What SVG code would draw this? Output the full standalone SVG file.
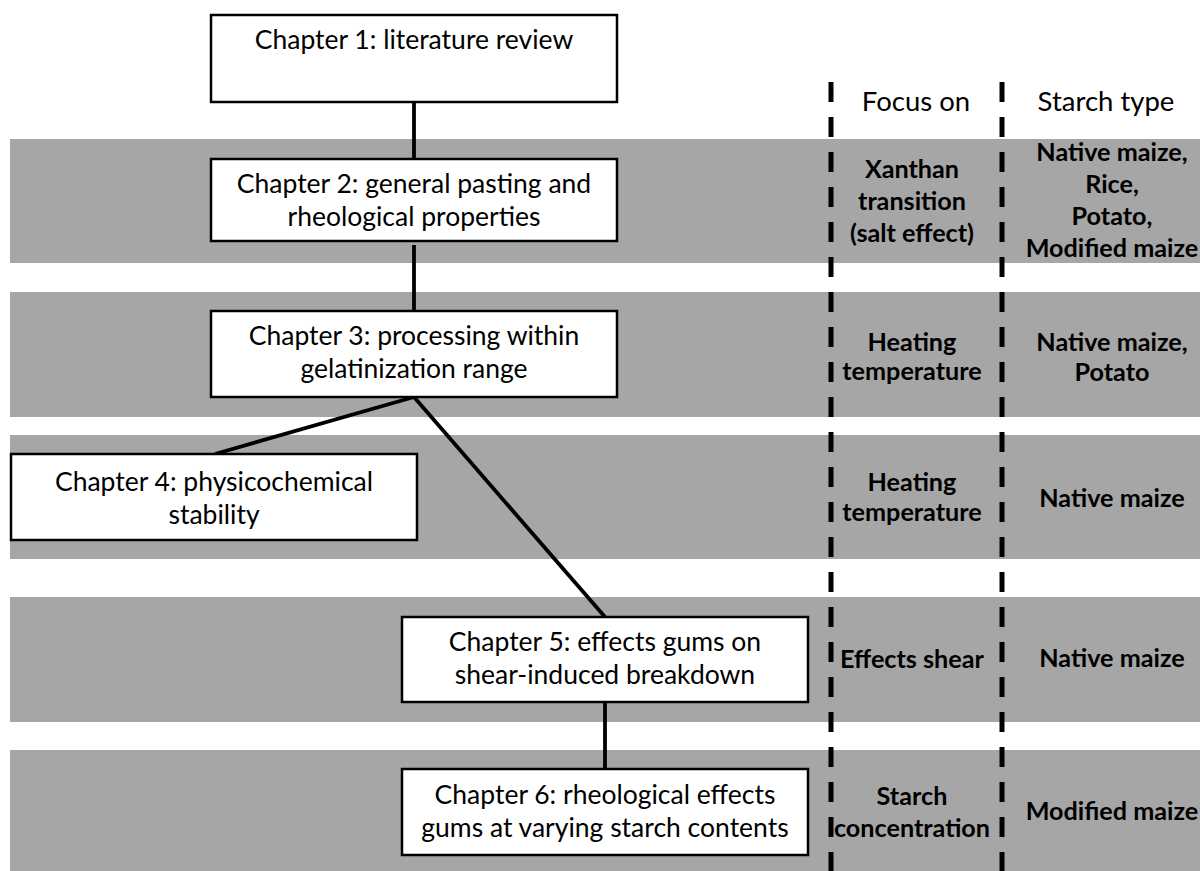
<svg xmlns="http://www.w3.org/2000/svg" width="1200" height="871" viewBox="0 0 1200 871">
<style>
.band{fill:#a6a6a6}
.box{fill:#fff;stroke:#000;stroke-width:2.5}
.t{font-family:Lato,"Liberation Sans",sans-serif;font-size:26.5px;fill:#000;text-anchor:middle}
.h{font-family:Lato,"Liberation Sans",sans-serif;font-size:27.5px;fill:#000;text-anchor:middle}
.b{font-family:Lato,"Liberation Sans",sans-serif;font-size:25.2px;font-weight:bold;fill:#000;text-anchor:middle}
.conn line{stroke:#000;stroke-width:3.8}
.dash{stroke:#000;stroke-width:5;stroke-dasharray:20 15}
</style>
<g id="bands">
<rect class="band" x="10" y="139" width="1190" height="124"/>
<rect class="band" x="10" y="292" width="1190" height="125"/>
<rect class="band" x="10" y="435" width="1190" height="124"/>
<rect class="band" x="10" y="597" width="1190" height="125"/>
<rect class="band" x="10" y="750" width="1190" height="121"/>
</g>
<g id="dividers">
<line class="dash" x1="831" y1="82" x2="831" y2="871"/>
<line class="dash" x1="1002" y1="82" x2="1002" y2="871"/>
</g>
<g class="conn" id="connectors">
<line x1="414" y1="101" x2="414" y2="159"/>
<line x1="414" y1="245" x2="414" y2="311"/>
<line x1="414" y1="397" x2="215" y2="454"/>
<line x1="414" y1="397" x2="605" y2="617"/>
<line x1="605" y1="702" x2="605" y2="769"/>
</g>
<g id="ch1">
<rect class="box" x="211" y="15" width="406" height="87"/>
<text class="t" x="414" y="49">Chapter 1: literature review</text>
</g>
<g id="ch2">
<rect class="box" x="211" y="159" width="406" height="82"/>
<text class="t" x="414" y="193">Chapter 2: general pasting and</text>
<text class="t" x="414" y="226">rheological properties</text>
</g>
<g id="ch3">
<rect class="box" x="211" y="311" width="406" height="86"/>
<text class="t" x="414" y="345">Chapter 3: processing within</text>
<text class="t" x="414" y="378">gelatinization range</text>
</g>
<g id="ch4">
<rect class="box" x="11" y="454" width="406" height="86"/>
<text class="t" x="214" y="491">Chapter 4: physicochemical</text>
<text class="t" x="214" y="524">stability</text>
</g>
<g id="ch5">
<rect class="box" x="402" y="617" width="406" height="85"/>
<text class="t" x="605" y="651">Chapter 5: effects gums on</text>
<text class="t" x="605" y="684">shear-induced breakdown</text>
</g>
<g id="ch6">
<rect class="box" x="402" y="769" width="406" height="86"/>
<text class="t" x="605" y="804">Chapter 6: rheological effects</text>
<text class="t" x="605" y="837">gums at varying starch contents</text>
</g>
<g id="headers">
<text class="h" x="916" y="111">Focus on</text>
<text class="h" x="1106" y="111">Starch type</text>
</g>
<g id="row1">
<text class="b" x="912" y="178">Xanthan</text>
<text class="b" x="912" y="210">transition</text>
<text class="b" x="912" y="242">(salt effect)</text>
<text class="b" x="1112" y="161">Native maize,</text>
<text class="b" x="1112" y="193">Rice,</text>
<text class="b" x="1112" y="225">Potato,</text>
<text class="b" x="1112" y="257">Modified maize</text>
</g>
<g id="row2">
<text class="b" x="912" y="351">Heating</text>
<text class="b" x="912" y="380">temperature</text>
<text class="b" x="1112" y="351">Native maize,</text>
<text class="b" x="1112" y="381">Potato</text>
</g>
<g id="row3">
<text class="b" x="912" y="491">Heating</text>
<text class="b" x="912" y="521">temperature</text>
<text class="b" x="1112" y="507">Native maize</text>
</g>
<g id="row4">
<text class="b" x="912" y="668">Effects shear</text>
<text class="b" x="1112" y="667">Native maize</text>
</g>
<g id="row5">
<text class="b" x="912" y="805">Starch</text>
<text class="b" x="912" y="837">concentration</text>
<text class="b" x="1112" y="820">Modified maize</text>
</g>
</svg>
